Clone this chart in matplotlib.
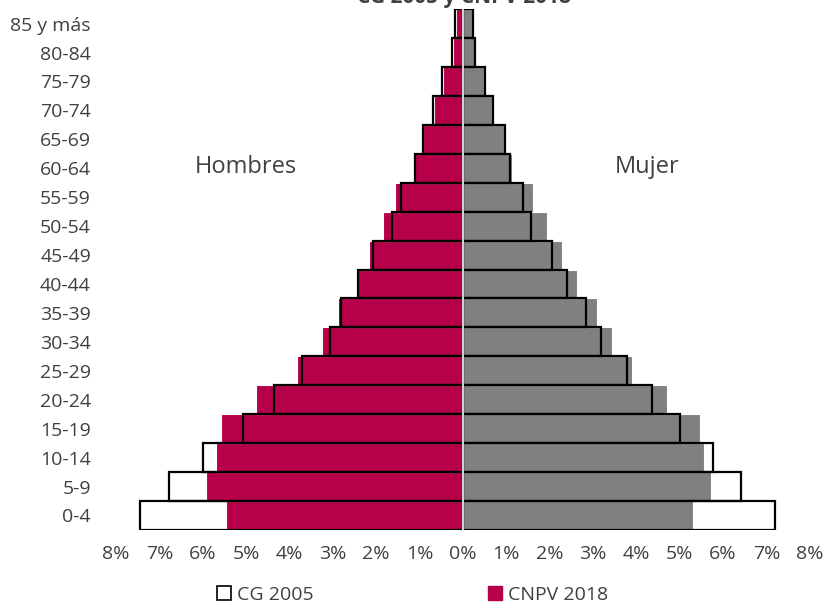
import matplotlib.pyplot as plt
from matplotlib.patches import Patch

plt.rcParams['font.family'] = ['Open Sans', 'DejaVu Sans']

# grupos de edad, de abajo hacia arriba
ages = ['0-4', '5-9', '10-14', '15-19', '20-24', '25-29', '30-34', '35-39',
        '40-44', '45-49', '50-54', '55-59', '60-64', '65-69', '70-74',
        '75-79', '80-84', '85 y más']

# porcentaje de la población total
hombres_2018 = [5.47, 5.93, 5.70, 5.57, 4.77, 3.83, 3.26, 2.89, 2.45, 2.16,
                1.85, 1.56, 1.13, 0.91, 0.66, 0.46, 0.24, 0.17]
hombres_2005 = [7.44, 6.77, 6.00, 5.08, 4.36, 3.71, 3.07, 2.81, 2.42, 2.07,
                1.63, 1.42, 1.10, 0.93, 0.68, 0.48, 0.25, 0.19]
mujeres_2018 = [5.30, 5.71, 5.56, 5.47, 4.71, 3.90, 3.43, 3.10, 2.64, 2.29,
                1.94, 1.62, 1.14, 0.95, 0.68, 0.48, 0.27, 0.22]
mujeres_2005 = [7.19, 6.41, 5.77, 5.00, 4.36, 3.78, 3.19, 2.84, 2.41, 2.06,
                1.58, 1.39, 1.08, 0.98, 0.70, 0.51, 0.29, 0.24]

xticks = list(range(-8, 9))

crimson = '#B7004A'
gray = '#808080'
txt = '#404040'

fig = plt.figure(figsize=(8.25, 6.07), dpi=100)
ax = fig.add_axes([0.1406, 0.127, 0.841, 0.858])

y = list(range(len(ages)))
ax.barh(y, [-v for v in hombres_2018], height=1, color=crimson,
        edgecolor='white', linewidth=0.8, zorder=2)
ax.barh(y, mujeres_2018, height=1, color=gray,
        edgecolor='white', linewidth=0.8, zorder=2)
# CG 2005 solo contorno, encima
ax.barh(y, [-v for v in hombres_2005], height=1, facecolor='none',
        edgecolor='black', linewidth=1.6, zorder=3)
ax.barh(y, mujeres_2005, height=1, facecolor='none',
        edgecolor='black', linewidth=1.6, zorder=3)
ax.axvline(0, color='#d0d0d0', linewidth=1.5, zorder=4)

ax.set_xlim(-8, 8)
ax.set_ylim(-0.5, len(ages) - 0.5)
ax.set_xticks(xticks)
ax.set_xticklabels([f'{abs(v)}%' for v in xticks])
ax.set_yticks(y)
ax.set_yticklabels(ages)
ax.tick_params(length=0, labelsize=14, colors=txt)
ax.tick_params(axis='x', pad=11)
ax.tick_params(axis='y', pad=18)
for s in ax.spines.values():
    s.set_visible(False)

ax.text(-5.0, 12.05, 'Hombres', fontsize=17, color=txt, ha='center', va='center')
ax.text(4.25, 12.05, 'Mujer', fontsize=17, color=txt, ha='center', va='center')

fig.text(0.562, 0.995, 'CG 2005 y CNPV 2018', fontsize=15, fontweight='bold',
         color=txt, ha='center', va='baseline')

handles = [Patch(facecolor='white', edgecolor='black', linewidth=1.2),
           Patch(facecolor=crimson, edgecolor=crimson)]
fig.legend(handles, ['CG 2005', 'CNPV 2018'], loc='center',
           bbox_to_anchor=(0.5, 0.02), ncol=2, frameon=False, fontsize=14,
           handlelength=0.7, handleheight=0.7, handletextpad=0.3,
           columnspacing=9, labelcolor=txt)

fig.savefig('out.png', dpi=100)
